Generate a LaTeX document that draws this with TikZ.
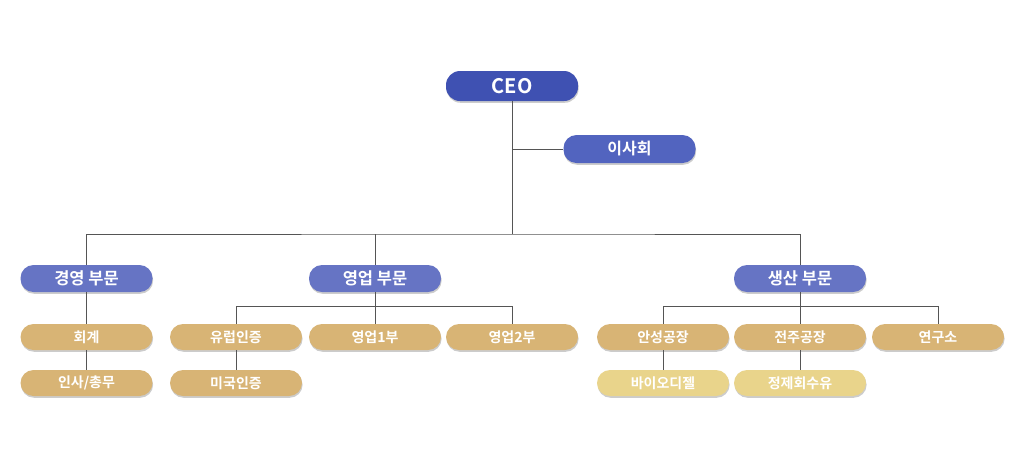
\documentclass[tikz,border=0pt]{standalone}
\usepackage{fontspec}
\setmainfont{Noto Sans CJK KR}[BoldFont={* Bold}]
\usetikzlibrary{shadows}
\definecolor{ceoblue}{HTML}{3F51B2}
\definecolor{boardblue}{HTML}{5264BF}
\definecolor{divblue}{HTML}{6674C4}
\definecolor{teamtan}{HTML}{D8B475}
\definecolor{unityel}{HTML}{E9D48B}
\definecolor{linegray}{HTML}{555555}

\begin{document}
\begin{tikzpicture}
  [ x=1pt, y=-1pt
  , box/.style={rectangle, rounded corners=13pt, minimum width=132pt, minimum height=27pt,
      text=white, font=\bfseries\fontsize{14}{14}\selectfont, inner sep=0pt,
      drop shadow={opacity=0.4, shadow xshift=0.6pt, shadow yshift=-1.8pt}}
  , top/.style={box, fill=ceoblue, minimum height=30pt, rounded corners=14pt, font=\bfseries\fontsize{20}{20}\selectfont}
  , board/.style={box, fill=boardblue, minimum height=28pt, font=\bfseries\fontsize{16}{16}\selectfont}
  , division/.style={box, fill=divblue, font=\bfseries\fontsize{16.5}{16.5}\selectfont}
  , team/.style={box, fill=teamtan, minimum height=26pt}
  , unit/.style={box, fill=unityel, minimum height=26pt}
  , link/.style={draw=linegray, line width=0.9pt}]
  \useasboundingbox (0,0) rectangle (1024,467);
  \node (ceo) at (512, 86) [top] {CEO};
  \node (board) at (629.5, 149) [board] {이사회};
  \node (mgmt) at (86.5, 278.5) [division] {경영 부문};
  \node (sales) at (375, 278.5) [division] {영업 부문};
  \node (prod) at (800, 278.5) [division] {생산 부문};
  \node (acc) at (86.5, 337) [team] {회계};
  \node (eu) at (236, 337) [team] {유럽인증};
  \node (s1) at (375, 337) [team] {영업1부};
  \node (s2) at (512, 337) [team] {영업2부};
  \node (anseong) at (663, 337) [team] {안성공장};
  \node (jeonju) at (800, 337) [team] {전주공장};
  \node (lab) at (938, 337) [team] {연구소};
  \node (hr) at (86.5, 383) [team] {인사/총무};
  \node (us) at (236, 383) [team] {미국인증};
  \node (bio) at (663, 383) [unit] {바이오디젤};
  \node (oil) at (800, 383) [unit] {정제회수유};
  \coordinate (bus) at (512, 234);
  \draw [link] (ceo.south) -- (bus);
  \draw [link] (board.west) -- (board.west -| ceo.south);
  \draw [link] (mgmt.north) |- (bus) -| (prod.north);
  \draw [link] (sales.north) -- (sales.north |- bus);
  \draw [link] (mgmt.south) -- (acc.north);
  \draw [link] (acc.south) -- (hr.north);
  \draw [link] (sales.south) -- (s1.north);
  \draw [link] (eu.north) -- ++(0,-17) -| (s2.north);
  \draw [link] (eu.south) -- (us.north);
  \draw [link] (prod.south) -- (jeonju.north);
  \draw [link] (anseong.north) -- ++(0,-17) -| (lab.north);
  \draw [link] (anseong.south) -- (bio.north);
  \draw [link] (jeonju.south) -- (oil.north);
\end{tikzpicture}
\end{document}
